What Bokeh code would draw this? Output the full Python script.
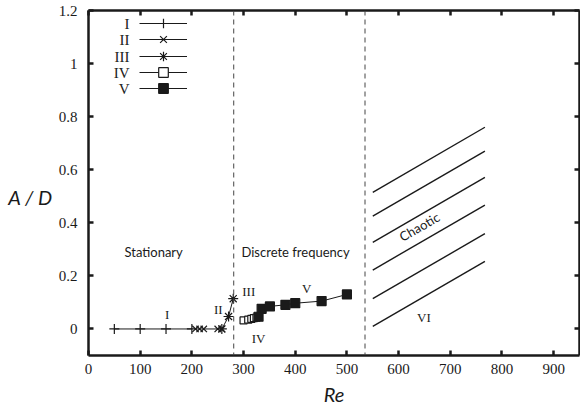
from bokeh.plotting import figure
from bokeh.models import (Range1d, FixedTicker, LinearAxis, Legend, LegendItem,
                          Span, Label, CustomJSTickFormatter)
from bokeh.core.properties import value
from bokeh.embed import file_html
from bokeh.resources import INLINE

# ---- data ----
re_I = [50, 100, 150, 200]
ad_I = [0, 0, 0, 0]
re_II = [207, 215, 223, 250, 258]
ad_II = [0, 0, 0, 0, 0]
re_III = [258, 271, 280]
ad_III = [0, 0.047, 0.114]
re_IV = [300, 309, 315, 320, 325]
ad_IV = [0.032, 0.035, 0.038, 0.041, 0.043]
re_V = [329, 335, 351, 381, 400, 451, 500]
ad_V = [0.046, 0.076, 0.085, 0.091, 0.097, 0.105, 0.13]

series_names = ["I", "II", "III", "IV", "V"]

regime_bounds = [281, 535]
chaotic_re_start = [550, 550, 550, 550, 550, 550]
chaotic_re_end = [767, 767, 767, 767, 767, 767]
chaotic_ad_start = [0.01, 0.114, 0.222, 0.326, 0.425, 0.515]
chaotic_ad_end = [0.255, 0.359, 0.467, 0.571, 0.67, 0.76]

region_texts = ["Stationary", "Discrete frequency", "Chaotic"]
region_x = [126, 296, 640]
region_y = [0.29, 0.29, 0.385]
region_angle = [0.0, 0.0, 0.52]
region_align = ["center", "left", "center"]

roman_texts = ["I", "II", "III", "IV", "V", "VI"]
roman_x = [152, 251, 310, 329, 422, 649]
roman_y = [0.055, 0.072, 0.141, -0.035, 0.151, 0.044]

x_ticks = [0, 100, 200, 300, 400, 500, 600, 700, 800, 900]
y_ticks = [0, 0.2, 0.4, 0.6, 0.8, 1, 1.2]

INK = "#1a1a1a"
SERIF = "Liberation Serif"
SANS = "Lato"

p = figure(width=580, height=412, output_backend="svg", toolbar_location=None,
           x_range=Range1d(0, 950), y_range=Range1d(-0.1, 1.2),
           min_border_left=88, min_border_right=1, min_border_top=10,
           min_border_bottom=57)
p.grid.visible = False
p.outline_line_color = None
p.background_fill_color = "white"

fmt = CustomJSTickFormatter(code="return tick.toString()")
blank = CustomJSTickFormatter(code="return ''")

def style_axis(ax, ticks, labels=True):
    ax.ticker = FixedTicker(ticks=ticks)
    ax.axis_line_color = INK
    ax.axis_line_width = 2.5
    ax.major_tick_line_color = INK
    ax.major_tick_line_width = 2.5
    ax.major_tick_in = 5
    ax.major_tick_out = 0
    ax.minor_tick_line_color = None
    ax.major_label_text_font = SERIF
    if labels:
        ax.formatter = fmt
        ax.major_label_text_font_size = "15px"
        ax.major_label_text_color = INK
    else:
        ax.formatter = blank
        ax.major_label_text_font_size = "1px"
        ax.major_label_text_color = None
        ax.major_label_standoff = 0

style_axis(p.xaxis[0], x_ticks)
style_axis(p.yaxis[0], y_ticks)
p.xaxis.major_label_standoff = 8
p.yaxis.major_label_standoff = 11
p.xaxis.axis_label = "Re"
# leading empty line drops the horizontal title slightly below the frame middle
p.yaxis.axis_label = "\nA / D"
for ax in (p.xaxis[0], p.yaxis[0]):
    ax.axis_label_text_font = SANS
    ax.axis_label_text_font_style = "italic"
    ax.axis_label_text_font_size = "20px"
    ax.axis_label_text_color = INK
p.xaxis.axis_label_standoff = 5
p.yaxis.axis_label_standoff = 3
p.yaxis.axis_label_orientation = "horizontal"

top = LinearAxis()
right = LinearAxis()
style_axis(top, x_ticks, labels=False)
style_axis(right, y_ticks, labels=False)
p.add_layout(top, "above")
p.add_layout(right, "right")

# regime boundaries
for b in regime_bounds:
    p.add_layout(Span(location=b, dimension="height", line_color="#444444",
                      line_width=1, line_dash="5 4"))

# chaotic hatch lines
p.segment(x0=chaotic_re_start, y0=chaotic_ad_start, x1=chaotic_re_end,
          y1=chaotic_ad_end, line_color=INK, line_width=1.4)

# series
series = [
    (re_I, ad_I, "cross", 10, INK),
    (re_II, ad_II, "x", 9, INK),
    (re_III, ad_III, "asterisk", 10, INK),
    (re_IV, ad_IV, "square", 7, "white"),
    (re_V, ad_V, "square", 9, INK),
]

# key: one single-row legend per series (glyph samples), names to their left
key_row_center = [23, 39, 56, 72, 88]   # px from the top of the frame area
FRAME_BOTTOM = 355
GLYPH_H = 24
for (xs, ys, marker, size, fill), name, c in zip(series, series_names, key_row_center):
    ln = p.line(xs, ys, line_color=INK, line_width=1)
    sc = p.scatter(xs, ys, marker=marker, size=size, line_color=INK,
                   fill_color=fill, line_width=1.2)
    vy = FRAME_BOTTOM - GLYPH_H - (c - GLYPH_H / 2)
    lg = Legend(items=[LegendItem(label=" ", renderers=[ln, sc])],
                location=(51, vy), padding=0, margin=0, spacing=0,
                glyph_width=48, glyph_height=GLYPH_H, label_height=16,
                label_width=1, label_standoff=0,
                label_text_font_size="10px", label_text_color=None,
                background_fill_alpha=0, border_line_alpha=0)
    p.add_layout(lg)
    p.add_layout(Label(x=41, y=FRAME_BOTTOM - c, x_units="screen",
                       y_units="screen", text=name, text_align="right",
                       text_baseline="middle", text_font=SERIF,
                       text_font_size="15px", text_color=INK))

# annotations
p.text(x=region_x, y=region_y, text=region_texts, angle=region_angle,
       text_align=region_align, text_baseline="middle",
       text_font=value(SANS), text_font_size="13px", text_color=INK)
p.text(x=roman_x, y=roman_y, text=roman_texts, text_align="center",
       text_baseline="middle", text_font=value(SERIF), text_font_size="13px",
       text_color=INK)

open("out.html", "w").write(file_html(p, INLINE))
